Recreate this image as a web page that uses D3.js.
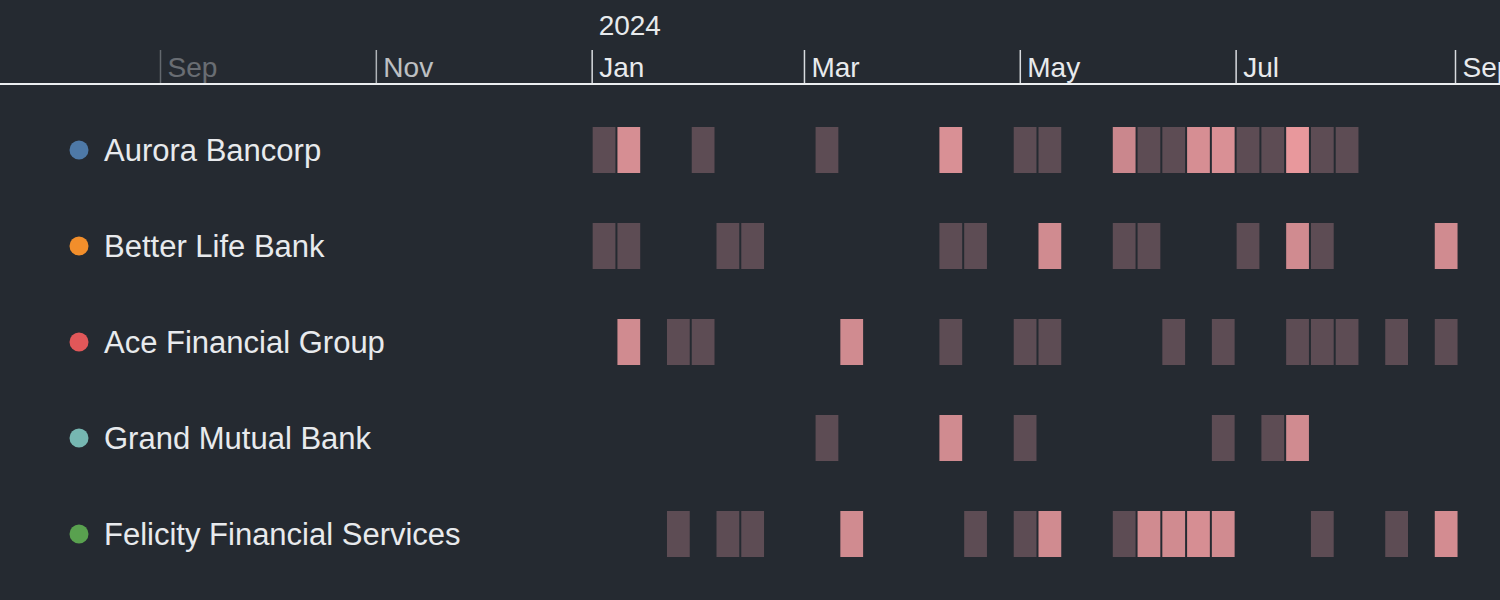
<!DOCTYPE html>
<html>
<head>
<meta charset="utf-8">
<script src="https://cdn.jsdelivr.net/npm/d3@7"></script>
<style>
  html, body { margin: 0; padding: 0; background: #252a31; }
  svg { display: block; font-family: "Liberation Sans", Arial, Helvetica, sans-serif; }
</style>
</head>
<body>
<div id="chart"></div>
<script>
// Banks (rows) and their dot colours
const banks = [
    "Aurora Bancorp",
    "Better Life Bank",
    "Ace Financial Group",
    "Grand Mutual Bank",
    "Felicity Financial Services"
];
const bankColors = ["#4e79a7", "#f28e2b", "#e15759", "#76b7b2", "#59a14f"];

// Weekly activity, one value per week starting Mon 1 Jan 2024 (0 = nothing)
const auroraWeeks   = [1,3,0,0,1,0,0,0,0,1,0,0,0,0,3.05,0,0,1,1,0,0,2.8,1,1,3,3.05,1,1,3.3,1,1,0,0,0,0];
const betterWeeks   = [1,1,0,0,0,1,1,0,0,0,0,0,0,0,1,1,0,0,2.9,0,0,1,1,0,0,0,1,0,2.9,1,0,0,0,0,2.9];
const aceWeeks      = [0,2.9,0,1,1,0,0,0,0,0,2.9,0,0,0,1,0,0,1,1,0,0,0,0,1,0,1,0,0,1,1,1,0,1,0,1];
const grandWeeks    = [0,0,0,0,0,0,0,0,0,1,0,0,0,0,2.9,0,0,1,0,0,0,0,0,0,0,1,0,1,2.9,0,0,0,0,0,0];
const felicityWeeks = [0,0,0,1,0,1,1,0,0,0,2.9,0,0,0,0,1,0,1,2.9,0,0,1,2.9,2.9,3,2.9,0,0,0,1,0,0,1,0,2.95];
const series = [auroraWeeks, betterWeeks, aceWeeks, grandWeeks, felicityWeeks];

// Axis ticks
const tickDates = [
    new Date(2023, 8, 1), new Date(2023, 10, 1), new Date(2024, 0, 1),
    new Date(2024, 2, 1), new Date(2024, 4, 1), new Date(2024, 6, 1), new Date(2024, 8, 1)
];
const tickOpacity = [0.35, 0.78, 1, 1, 1, 1, 1];
const yearLabel = "2024";

const width = 1500;
const height = 600;

const svg = d3.select("#chart")
    .append("svg")
    .attr("width", width)
    .attr("height", height);

// Time scale
const x = d3.scaleTime()
    .domain([new Date(2023, 8, 1), new Date(2024, 8, 1)])
    .range([160, 1455]);

// Rows
const y = d3.scaleBand()
    .domain(banks)
    .range([102, 582]);

// Cell colour
const color = d3.scaleLinear()
    .domain([1, 3])
    .range(["#5d4c54", "#d68e93"]);

const weekStarts = d3.timeMonday.range(new Date(2024, 0, 1), new Date(2024, 8, 2));

// Axis
const axis = svg.append("g")
    .attr("transform", "translate(0,84)")
    .call(d3.axisTop(x).tickValues(tickDates).tickSize(34).tickFormat(d3.timeFormat("%b")));

axis.select(".domain").remove();
axis.selectAll(".tick")
    .attr("opacity", (d, i) => tickOpacity[i]);
axis.selectAll(".tick line")
    .attr("stroke", "#d8dbdf")
    .attr("stroke-width", 1.5);
axis.selectAll(".tick text")
    .attr("fill", "#e8eaed")
    .attr("text-anchor", "start")
    .attr("x", 7)
    .attr("y", -7)
    .attr("dy", null)
    .style("font-size", "28px");

svg.append("line")
    .attr("x1", 0)
    .attr("x2", width)
    .attr("y1", 84)
    .attr("y2", 84)
    .attr("stroke", "#eceef0")
    .attr("stroke-width", 2);

svg.append("text")
    .attr("x", x(new Date(2024, 0, 1)) + 7)
    .attr("y", 35)
    .attr("fill", "#e8eaed")
    .style("font-size", "28px")
    .text(yearLabel);

// Row labels
const rows = svg.selectAll(".row")
    .data(banks)
    .join("g")
    .attr("class", "row")
    .attr("transform", d => `translate(0,${y(d) + y.bandwidth() / 2})`);

rows.append("circle")
    .attr("cx", 79)
    .attr("r", 9.5)
    .attr("fill", (d, i) => bankColors[i]);

rows.append("text")
    .attr("x", 104)
    .attr("dy", "0.36em")
    .attr("fill", "#e8eaed")
    .style("font-size", "31px")
    .text(d => d);

// Cells
rows.each(function (bank, i) {
    const cells = series[i]
        .map((v, w) => ({ date: weekStarts[w], value: v }))
        .filter(d => d.value > 0);
    d3.select(this).selectAll("rect")
        .data(cells)
        .join("rect")
        .attr("x", d => x(d.date) + 1)
        .attr("y", -23)
        .attr("width", d => x(d3.timeDay.offset(d.date, 7)) - x(d.date) - 2)
        .attr("height", 46)
        .attr("fill", d => color(d.value));
});
</script>
</body>
</html>
